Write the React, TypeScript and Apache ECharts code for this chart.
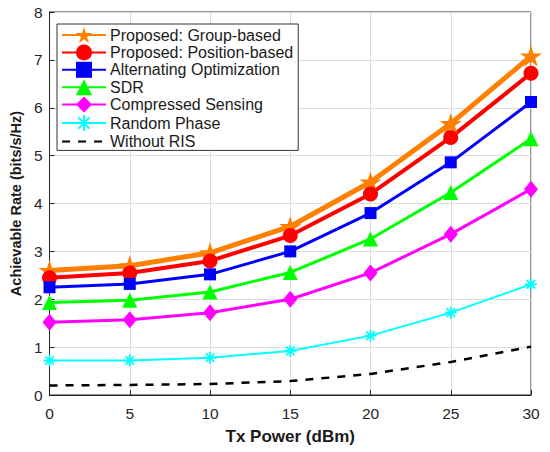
import React, { useEffect, useRef } from "react";
import * as echarts from "echarts";

const txPower = [0, 5, 10, 15, 20, 25, 30];
const groupBased = [2.6, 2.7, 2.97, 3.52, 4.45, 5.67, 7.08];
const positionBased = [2.45, 2.55, 2.8, 3.33, 4.2, 5.38, 6.72];
const alternating = [2.25, 2.32, 2.52, 3.0, 3.8, 4.86, 6.12];
const sdr = [1.93, 1.98, 2.15, 2.56, 3.26, 4.23, 5.35];
const compressed = [1.52, 1.57, 1.72, 2.0, 2.55, 3.36, 4.3];
const randomPhase = [0.72, 0.72, 0.78, 0.92, 1.24, 1.72, 2.31];
const withoutRIS = [0.2, 0.21, 0.23, 0.29, 0.44, 0.69, 1.01];

const names = [
  "Proposed: Group-based",
  "Proposed: Position-based",
  "Alternating Optimization",
  "SDR",
  "Compressed Sensing",
  "Random Phase",
  "Without RIS",
];

const STAR =
  "path://M0,-100L22.45,-30.9L95.1,-30.9L36.3,11.8L58.8,80.9L0,38.2L-58.8,80.9L-36.3,11.8L-95.1,-30.9L-22.45,-30.9Z";
const ASTER = "path://M0,-10L0,10M-10,0L10,0M-7,-7L7,7M-7,7L7,-7";

const FONT = "'Liberation Sans', Arial, sans-serif";

export default function App() {
  const ref = useRef<HTMLDivElement>(null);
  useEffect(() => {
    if (!ref.current) return;
    const chart = echarts.init(ref.current, undefined, { renderer: "svg" });
    const pts = (arr: number[]) => txPower.map((x, i) => [x, arr[i]]);
    const mk = (
      name: string,
      data: number[],
      color: string,
      width: number,
      symbol: string,
      size: any,
      extra: any = {}
    ) => ({
      type: "line",
      name,
      data: pts(data),
      symbol,
      symbolSize: size,
      symbolKeepAspect: true,
      lineStyle: { color, width, type: "solid" },
      itemStyle: { color, borderWidth: 0 },
      emphasis: { disabled: true },
      ...extra,
    });
    chart.setOption({
      animation: false,
      grid: {
        left: 45,
        right: 19,
        top: 12,
        bottom: 57,
        show: true,
        borderColor: "#262626",
        borderWidth: 1,
      },
      legend: {
        orient: "vertical",
        left: 57,
        top: 24,
        data: [
          ...names.slice(0, 6),
          { name: names[6], itemStyle: { opacity: 0 } },
        ],
        itemWidth: 44,
        itemHeight: 20,
        itemGap: 1.4,
        padding: [3, 5, 1, 4],
        borderColor: "#333",
        borderWidth: 1,
        backgroundColor: "#fff",
        textStyle: { fontFamily: FONT, fontSize: 16, color: "#1a1a1a", padding: [0, 0, 0, -1] },
      },
      xAxis: {
        type: "value",
        min: 0,
        max: 30,
        interval: 5,
        name: "Tx Power (dBm)",
        nameLocation: "middle",
        nameGap: 33,
        nameTextStyle: { fontFamily: FONT, fontSize: 17, fontWeight: "bold", color: "#1a1a1a" },
        axisLine: { lineStyle: { color: "#262626" } },
        axisTick: { inside: true, length: 5, lineStyle: { color: "#262626" } },
        axisLabel: { fontFamily: FONT, fontSize: 15.5, color: "#262626", margin: 10 },
        splitLine: { show: true, lineStyle: { color: "#dcdcdc" } },
      },
      yAxis: {
        type: "value",
        min: 0,
        max: 8,
        interval: 1,
        name: "Achievable Rate (bits/s/Hz)",
        nameLocation: "middle",
        nameGap: 22,
        nameTextStyle: { fontFamily: FONT, fontSize: 14.5, fontWeight: "bold", color: "#1a1a1a" },
        axisLine: { show: true, lineStyle: { color: "#262626" } },
        axisTick: { show: true, inside: true, length: 5, lineStyle: { color: "#262626" } },
        axisLabel: { fontFamily: FONT, fontSize: 15.5, color: "#262626", margin: 7 },
        splitLine: { show: true, lineStyle: { color: "#dcdcdc" } },
      },
      series: [
        mk(names[0], groupBased, "#ff8000", 5, STAR, 22),
        mk(names[1], positionBased, "#ff0000", 4, "circle", 15),
        mk(names[2], alternating, "#0000ff", 3, "rect", 12),
        mk(names[3], sdr, "#00ff00", 3, "triangle", 15),
        mk(names[4], compressed, "#ff00ff", 3, "diamond", [14, 17]),
        mk(names[5], randomPhase, "#00ffff", 2, ASTER, 12, {
          itemStyle: { color: "#00ffff", borderColor: "#00ffff", borderWidth: 1.8 },
        }),
        mk(names[6], withoutRIS, "#000000", 2.5, "none", 0, {
          lineStyle: { color: "#000", width: 2.5, type: [8, 8] },
        }),
      ],
    });
    return () => chart.dispose();
  }, []);
  return <div ref={ref} style={{ width: 550, height: 452, marginLeft: -8, marginTop: -8 }} />;
}
